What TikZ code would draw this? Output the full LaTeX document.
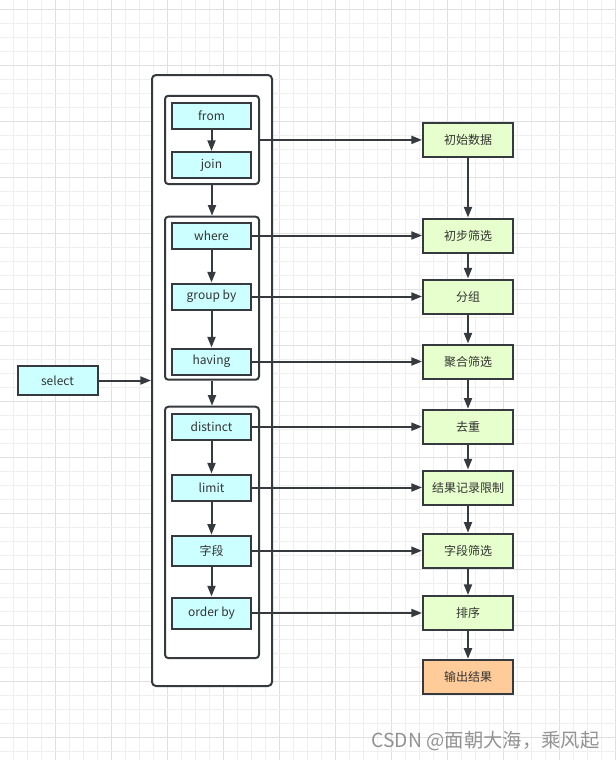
\documentclass[tikz,border=0pt]{standalone}
\usepackage{fontspec}
\setmainfont{Noto Sans CJK SC}
\usepackage{tikz}
\usetikzlibrary{arrows.meta}
\usetikzlibrary{positioning}
\definecolor{edge}{HTML}{36393D}
\definecolor{ink}{HTML}{333333}
\definecolor{cyanfill}{HTML}{CCFFFF}
\definecolor{greenfill}{HTML}{E6FFCC}
\definecolor{orangefill}{HTML}{FFCC99}
\definecolor{gridminor}{HTML}{EFEFEF}
\definecolor{gridmajor}{HTML}{E0E0E0}

\begin{document}
\begin{tikzpicture}[x=0.75pt, y=-0.75pt,
box/.style={draw=edge, line width=1.5pt, text=ink, font=\fontsize{9}{10}\selectfont, inner sep=0pt},
kw/.style={box, fill=cyanfill, minimum width=59.25pt, minimum height=19.5pt},
res/.style={box, fill=greenfill, minimum width=67.5pt, minimum height=25.5pt},
grp/.style={draw=edge, fill=white, line width=1.5pt, rounded corners=2.5pt, minimum width=70.5pt, inner sep=0pt},
flow/.style={draw=edge, line width=1.5pt, -{Triangle[length=8pt,width=6pt]}}]
\def\kx{211.5}
\def\gx{212}
\useasboundingbox (0,0) rectangle (616,760);
\fill[white] (0,0) rectangle (616,760);
\foreach \i in {0,...,43} {
  \pgfmathtruncatemacro{\m}{mod(\i,4)}
  \ifnum\m=3 \draw[gridmajor, line width=0.75pt] ({13.3+14*\i},0) -- ++(0,760);
  \else \draw[gridminor, line width=0.75pt] ({13.3+14*\i},0) -- ++(0,760); \fi
}
\foreach \j in {0,...,53} {
  \pgfmathtruncatemacro{\m}{mod(\j,4)}
  \ifnum\m=0 \draw[gridmajor, line width=0.75pt] (0,{9.3+14*\j}) -- ++(616,0);
  \else \draw[gridminor, line width=0.75pt] (0,{9.3+14*\j}) -- ++(616,0); \fi
}

\node[grp, rounded corners=3pt, minimum width=90pt, minimum height=458.25pt] (outer) at (\gx,380.5) {};
\node[grp, minimum height=66.2pt] (grpA) at (\gx,139.9) {};
\node[grp, minimum height=122.25pt] (grpB) at (\gx,298.2) {};
\node[grp, minimum height=188.5pt] (grpC) at (\gx,532.4) {};

\node[kw] (from) at (\kx,115.5) {from};
\node[kw] (join) at (\kx,165) {join};
\node[kw] (where) at (\kx,235.5) {where};
\node[kw] (group) at (\kx,296.5) {group by};
\node[kw] (having) at (\kx,361.5) {having};
\node[kw] (distinct) at (\kx,426.7) {distinct};
\node[kw] (limit) at (\kx,487.5) {limit};
\node[kw, minimum height=22.5pt] (field) at (\kx,550.7) {字段};
\node[kw, minimum height=23.25pt] (order) at (\kx,613) {order by};

\node[kw, minimum width=60pt, minimum height=21.75pt] (select) at (57.5,380.5) {select};

\coordinate (resx) at (468,0);
\node[res] (init) at (grpA -| resx) {初始数据};
\node[res] (filter) at (where -| resx) {初步筛选};
\node[res] (split) at (group -| resx) {分组};
\node[res] (aggr) at (having -| resx) {聚合筛选};
\node[res] (dedup) at (distinct -| resx) {去重};
\node[res] (cap) at (limit -| resx) {结果记录限制};
\node[res] (pick) at (field -| resx) {字段筛选};
\node[res] (sort) at (order -| resx) {排序};
\node[res, fill=orangefill] (out) at (468,676.8) {输出结果};

\node[text=gray!85, font=\fontsize{14.5}{16}\selectfont, inner sep=0pt] (wm) at (485.5,741) {CSDN @面朝大海，乘风起};

\draw[flow] (from) -- (join);
\draw[flow] (grpA) -- (grpB);
\draw[flow] (where) -- (group);
\draw[flow] (group) -- (having);
\draw[flow] (grpB) -- (grpC);
\draw[flow] (distinct) -- (limit);
\draw[flow] (limit) -- (field);
\draw[flow] (field) -- (order);
\draw[flow] (select) -- (outer);

\draw[flow] (grpA) -- (init);
\draw[flow] (where) -- (filter);
\draw[flow] (group) -- (split);
\draw[flow] (having) -- (aggr);
\draw[flow] (distinct) -- (dedup);
\draw[flow] (limit) -- (cap);
\draw[flow] (field) -- (pick);
\draw[flow] (order) -- (sort);

\draw[flow] (init) -- (filter);
\draw[flow] (filter) -- (split);
\draw[flow] (split) -- (aggr);
\draw[flow] (aggr) -- (dedup);
\draw[flow] (dedup) -- (cap);
\draw[flow] (cap) -- (pick);
\draw[flow] (pick) -- (sort);
\draw[flow] (sort) -- (out);
\end{tikzpicture}
\end{document}
